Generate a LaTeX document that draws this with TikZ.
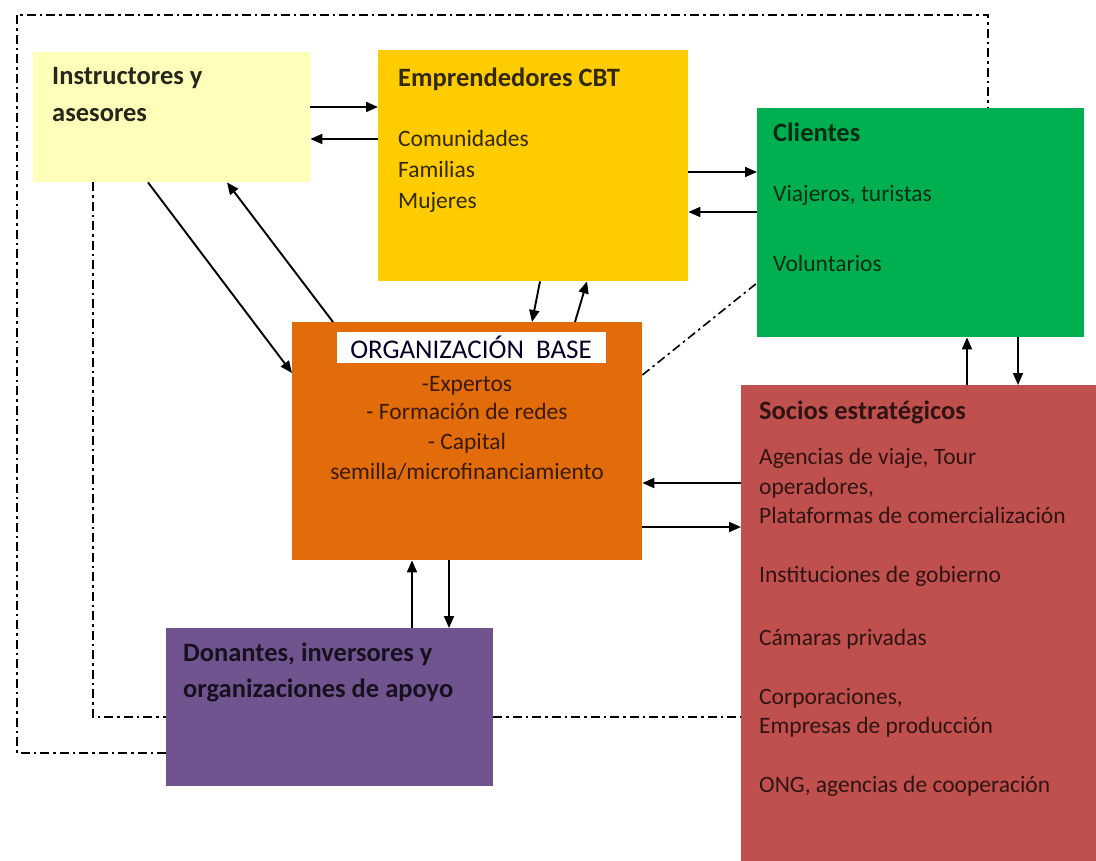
\documentclass[tikz,border=0pt]{standalone}
\usepackage{fontspec}
\setmainfont{Carlito}
\usetikzlibrary{arrows.meta}

\definecolor{colIns}{RGB}{255,255,185}
\definecolor{colEmp}{RGB}{255,204,0}
\definecolor{colCli}{RGB}{0,176,80}
\definecolor{colOrg}{RGB}{227,108,10}
\definecolor{colDon}{RGB}{112,84,144}
\definecolor{colSoc}{RGB}{192,80,77}

\tikzset{
  caja/.style={draw=none, inner sep=0pt, anchor=north west},
  titulo/.style={anchor=base west, inner sep=0pt, font=\fontsize{26.5}{30}\selectfont\bfseries},
  texto/.style={anchor=base west, inner sep=0pt, font=\fontsize{23.5}{28}\selectfont},
  flecha/.style={line width=1.9pt, -{Triangle[length=12pt,width=10pt]}},
  rayado/.style={line width=1.6pt, dash pattern=on 9pt off 4pt on 2.5pt off 4pt},
}

\begin{document}
\begin{tikzpicture}[x=1pt, y=-1pt]
  \useasboundingbox (0,0) rectangle (1096,861);

  % cajas
  \node[caja, fill=colIns, minimum width=277pt, minimum height=130pt] (ins) at (33,52) {};
  \node[caja, fill=colEmp, minimum width=310pt, minimum height=231pt] (emp) at (378,50) {};
  \node[caja, fill=colCli, minimum width=327pt, minimum height=229pt] (cli) at (757,108) {};
  \node[caja, fill=colOrg, minimum width=350pt, minimum height=238pt] (org) at (292,322) {};
  \node[caja, fill=colDon, minimum width=327pt, minimum height=158pt] (don) at (166,628) {};
  \node[caja, fill=colSoc, minimum width=355pt, minimum height=476pt] (soc) at (741,385) {};

  % lineas punteadas
  \draw[rayado] (don.west |- 0,753) -- (17,753) -- (17,15) -- (988,15) -- (cli.north -| 988,0);
  \draw[rayado] (ins.south -| 93,0) -- (93,717) -- (don.west |- 0,717);
  \draw[rayado] (don.east |- 0,717) -- (soc.west |- 0,717);
  \draw[rayado] (org.east |- 0,375) -- (cli.west |- 0,283);

  % textos
  \node[titulo, text=black!85!colIns] (insA) at (52,85) {Instructores y};
  \node[titulo, text=black!85!colIns] (insB) at (52,122) {asesores};

  \node[titulo, text=black!80!colEmp] (empA) at (398,87) {Emprendedores CBT};
  \node[texto, text=black!80!colEmp] (empB) at (398,147) {Comunidades};
  \node[texto, text=black!80!colEmp] (empC) at (398,178) {Familias};
  \node[texto, text=black!80!colEmp] (empD) at (398,209) {Mujeres};

  \node[titulo, text=black!75!colCli] (cliA) at (773,142) {Clientes};
  \node[texto, text=black!75!colCli] (cliB) at (773,202) {Viajeros, turistas};
  \node[texto, text=black!75!colCli] (cliC) at (773,272) {Voluntarios};

  \node[fill=white, inner sep=0pt, minimum width=269pt, minimum height=31pt,
        font=\fontsize{27}{30}\selectfont, text=black!85!blue] (orgT) at (471,347.5) {ORGANIZACIÓN\ \ BASE};
  \node[texto, anchor=base, text=black!75!colOrg] (orgA) at (467,391) {-Expertos};
  \node[texto, anchor=base, text=black!75!colOrg] (orgB) at (467,419) {- Formación de redes};
  \node[texto, anchor=base, text=black!75!colOrg] (orgC) at (467,449) {- Capital};
  \node[texto, anchor=base, text=black!75!colOrg] (orgD) at (467,479) {semilla/microfinanciamiento};

  \node[titulo, text=black!80!colDon] (donA) at (183,661) {Donantes, inversores y};
  \node[titulo, text=black!80!colDon] (donB) at (183,697) {organizaciones de apoyo};

  \node[titulo, text=black!75!colSoc] (socA) at (759,419) {Socios estratégicos};
  \node[texto, text=black!75!colSoc] (socB) at (759,464) {Agencias de viaje, Tour};
  \node[texto, text=black!75!colSoc] (socC) at (759,494) {operadores,};
  \node[texto, text=black!75!colSoc] (socD) at (759,523) {Plataformas de comercialización};
  \node[texto, text=black!75!colSoc] (socE) at (759,582) {Instituciones de gobierno};
  \node[texto, text=black!75!colSoc] (socF) at (759,645) {Cámaras privadas};
  \node[texto, text=black!75!colSoc] (socG) at (759,704) {Corporaciones,};
  \node[texto, text=black!75!colSoc] (socH) at (759,733) {Empresas de producción};
  \node[texto, text=black!75!colSoc] (socI) at (759,792) {ONG, agencias de cooperación};

  % flechas
  \draw[flecha] (ins.east |- 0,107) -- (emp.west |- 0,107);
  \draw[flecha] (emp.west |- 0,139) -- (ins.east |- 0,139);
  \draw[flecha] (emp.east |- 0,172) -- (cli.west |- 0,172);
  \draw[flecha] (cli.west |- 0,212) -- (emp.east |- 0,212);
  \draw[flecha] (ins.south -| 148,0) -- (org.west |- 0,373);
  \draw[flecha] (org.north -| 333,0) -- (ins.south -| 227,0);
  \draw[flecha] (emp.south -| 540,0) -- (org.north -| 532,0);
  \draw[flecha] (org.north -| 575,0) -- (emp.south -| 587,0);
  \draw[flecha] (soc.west |- 0,483) -- (org.east |- 0,483);
  \draw[flecha] (org.east |- 0,527) -- (soc.west |- 0,527);
  \draw[flecha] (soc.north -| 967,0) -- (cli.south -| 967,0);
  \draw[flecha] (cli.south -| 1018,0) -- (soc.north -| 1018,0);
  \draw[flecha] (don.north -| 412,0) -- (org.south -| 412,0);
  \draw[flecha] (org.south -| 449,0) -- (don.north -| 449,0);
\end{tikzpicture}
\end{document}
